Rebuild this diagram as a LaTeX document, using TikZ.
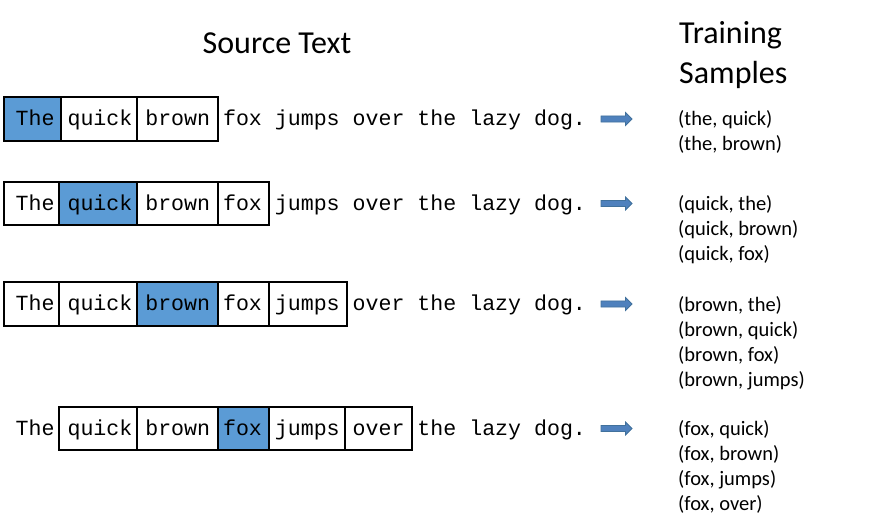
\documentclass[tikz,border=0pt]{standalone}
\usepackage{fontspec}
\setmainfont{Carlito}
\newfontfamily\monofont{Liberation Mono}
\usetikzlibrary{shapes.arrows}
\definecolor{hiblue}{HTML}{5B9BD5}
\definecolor{arrowblue}{HTML}{4F81BD}
\definecolor{arrowedge}{HTML}{41719C}
\begin{document}
\begin{tikzpicture}[x=1pt,y=-1pt,
  wbox/.style={draw=black, line width=2pt, inner sep=0pt},
  hbox/.style={wbox, fill=hiblue},
  sent/.style={anchor=base west, inner sep=0pt, font=\monofont\fontsize{21.6}{26}\selectfont},
  samp/.style={anchor=base west, inner sep=0pt, align=left, font=\fontsize{20.5}{25}\selectfont},
  title/.style={inner sep=0pt, font=\fontsize{32}{40.7}\selectfont},
  blockarrow/.style={single arrow, draw=arrowedge, fill=arrowblue, line width=0.8pt,
    minimum height=31pt, minimum width=13pt, inner sep=2.6pt,
    single arrow head extend=3.4pt, single arrow head indent=0pt}
]
\useasboundingbox (0,0) rectangle (886,529);

% titles (multi-line nodes: base anchor is on the last line)
\node[title, anchor=base] (srctitle) at (277,53.3) {Source Text};
\node[title, anchor=base west, align=left] (traintitle) at (679,84) {Training\\Samples};

% row 1
\node[hbox, minimum width=57pt, minimum height=44pt] (r1a) at (32.5,119) {};
\node[wbox, minimum width=76pt, minimum height=44pt] (r1b) at (99,119) {};
\node[wbox, minimum width=81pt, minimum height=44pt] (r1c) at (177.5,119) {};
\node[sent] (s1) at (15.5,126) {The quick brown fox jumps over the lazy dog.};
\node[blockarrow] (a1) at (615,119) {};
\node[samp] (t1) at (678,151) {(the, quick)\\(the, brown)};

% row 2
\node[wbox, minimum width=55pt, minimum height=43pt] (r2a) at (31.5,203.5) {};
\node[hbox, minimum width=78pt, minimum height=43pt] (r2b) at (98,203.5) {};
\node[wbox, minimum width=81pt, minimum height=43pt] (r2c) at (177.5,203.5) {};
\node[wbox, minimum width=51pt, minimum height=43pt] (r2d) at (243.5,203.5) {};
\node[sent] (s2) at (15.5,210.5) {The quick brown fox jumps over the lazy dog.};
\node[blockarrow] (a2) at (615,203.5) {};
\node[samp] (t2) at (678,260.5) {(quick, the)\\(quick, brown)\\(quick, fox)};

% row 3
\node[wbox, minimum width=55pt, minimum height=44pt] (r3a) at (31.5,304) {};
\node[wbox, minimum width=78pt, minimum height=44pt] (r3b) at (98,304) {};
\node[hbox, minimum width=81pt, minimum height=44pt] (r3c) at (177.5,304) {};
\node[wbox, minimum width=51pt, minimum height=44pt] (r3d) at (243.5,304) {};
\node[wbox, minimum width=78pt, minimum height=44pt] (r3e) at (308,304) {};
\node[sent] (s3) at (15.5,311) {The quick brown fox jumps over the lazy dog.};
\node[blockarrow] (a3) at (615,304) {};
\node[samp] (t3) at (678,386) {(brown, the)\\(brown, quick)\\(brown, fox)\\(brown, jumps)};

% row 4
\node[wbox, minimum width=78pt, minimum height=43pt] (r4b) at (98,428.5) {};
\node[wbox, minimum width=81pt, minimum height=43pt] (r4c) at (177.5,428.5) {};
\node[hbox, minimum width=51pt, minimum height=43pt] (r4d) at (243.5,428.5) {};
\node[wbox, minimum width=76pt, minimum height=43pt] (r4e) at (307,428.5) {};
\node[wbox, minimum width=67pt, minimum height=43pt] (r4f) at (378.5,428.5) {};
\node[sent] (s4) at (15.5,435.5) {The quick brown fox jumps over the lazy dog.};
\node[blockarrow] (a4) at (615,428.5) {};
\node[samp] (t4) at (678,510.5) {(fox, quick)\\(fox, brown)\\(fox, jumps)\\(fox, over)};
\end{tikzpicture}
\end{document}
